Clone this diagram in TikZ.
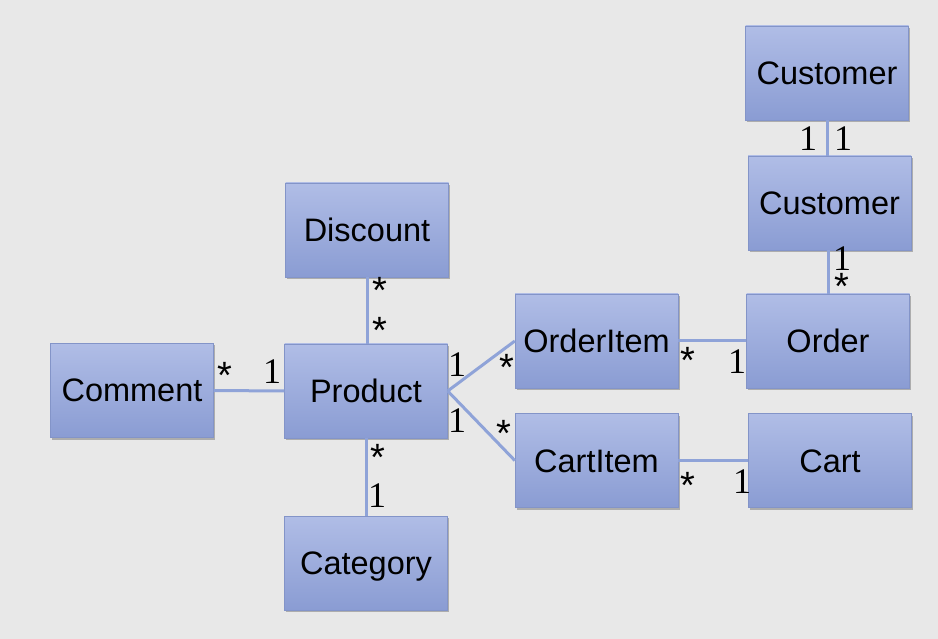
\documentclass[tikz,border=0pt]{standalone}
\usepackage{fontspec}
\setmainfont{Liberation Sans}
\newfontfamily\numfont{Liberation Serif}
\usetikzlibrary{shadows}
\definecolor{bgc}{HTML}{E8E8E8}
\definecolor{boxtop}{HTML}{B0BDE6}
\definecolor{boxbot}{HTML}{8A9CD3}
\definecolor{linec}{HTML}{8FA3D8}
\tikzset{
  cls/.style={minimum width=163pt, minimum height=94pt, inner sep=0pt,
    text height=30pt, text depth=7pt,
    top color=boxtop, bottom color=boxbot, draw=boxbot!95!black, line width=0.4pt,
    drop shadow={shadow xshift=1.5pt, shadow yshift=-2pt, opacity=0.25, fill=black},
    font=\fontsize{32.5}{39}\selectfont, text=black},
  conn/.style={draw=linec, line width=3pt},
  one/.style={inner sep=0pt, font=\numfont\fontsize{36}{42}\selectfont},
  many/.style={inner sep=0pt, font=\fontsize{38}{44}\selectfont}
}
\begin{document}
\begin{tikzpicture}[x=1pt,y=-1pt]
\fill[bgc] (0,0) rectangle (938,639);
\useasboundingbox (0,0) rectangle (938,639);
\node[cls] (cust1) at (827,73) {Customer};
\node[cls] (cust2) at (829.5,203) {Customer};
\node[cls] (discount) at (367,230) {Discount};
\node[cls] (comment) at (132,390.5) {Comment};
\node[cls] (product) at (366,391) {Product};
\node[cls] (orderitem) at (596.5,341) {OrderItem};
\node[cls] (order) at (828,341) {Order};
\node[cls] (cartitem) at (596.5,460.5) {CartItem};
\node[cls] (cart) at (830,460.5) {Cart};
\node[cls] (category) at (366,563) {Category};
% connectors
\draw[conn] (cust1.south) -- (cust1.south |- cust2.north);
\draw[conn] (order.north) -- (order.north |- cust2.south);
\draw[conn] (discount.south) -- (discount.south |- product.north);
\draw[conn] (comment.east) -- (product.west);
\draw[conn] (product.east) -- (orderitem.west);
\draw[conn] (product.east) -- (cartitem.west);
\draw[conn] (orderitem.east) -- (order.west);
\draw[conn] (cartitem.east) -- (cart.west);
\draw[conn] (product.south) -- (category.north);
% multiplicities
\node[one] (m1) at (808,139) {1};
\node[one] (m2) at (843,139) {1};
\node[one] (m3) at (842,259) {1};
\node[many] (m4) at (842,286) {*};
\node[many] (m5) at (380,290) {*};
\node[many] (m6) at (380,330) {*};
\node[many] (m7) at (225,375) {*};
\node[one] (m8) at (272,372) {1};
\node[one] (m9) at (457,365) {1};
\node[many] (m10) at (507,367) {*};
\node[one] (m11) at (457,421) {1};
\node[many] (m12) at (504,433) {*};
\node[many] (m13) at (688,360) {*};
\node[one] (m14) at (737,362) {1};
\node[many] (m15) at (688,485) {*};
\node[one] (m16) at (742,482) {1};
\node[many] (m17) at (378,457) {*};
\node[one] (m18) at (377,496) {1};
\end{tikzpicture}
\end{document}
